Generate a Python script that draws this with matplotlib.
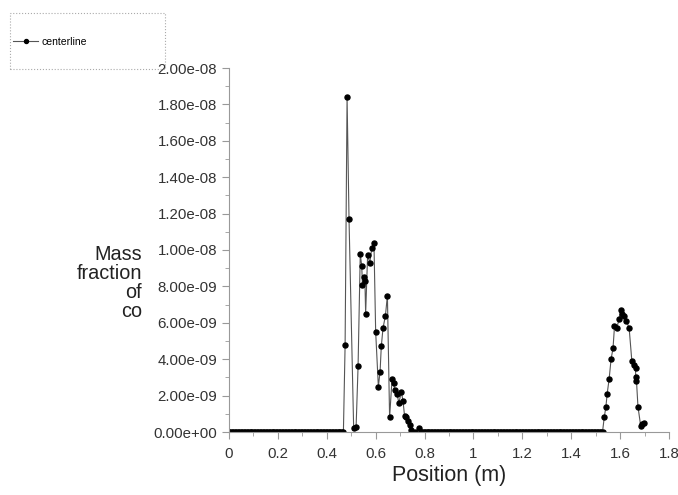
import numpy as np
import matplotlib.pyplot as plt
from matplotlib.patches import Rectangle
from matplotlib.ticker import MultipleLocator

plt.rcParams['font.family'] = ['Liberation Sans', 'DejaVu Sans']

# flat zero stretches (densely sampled)
zero_left_x = np.arange(0.0, 0.472, 0.006)
zero_mid_x = np.arange(0.79, 1.525, 0.006)

# first group of peaks
peak1_x = [0.475, 0.483, 0.491, 0.51, 0.52, 0.528, 0.537, 0.543, 0.546, 0.551,
           0.556, 0.559, 0.567, 0.576, 0.584, 0.593, 0.60, 0.611, 0.618, 0.623,
           0.63, 0.64, 0.648, 0.657, 0.667, 0.673, 0.678, 0.687, 0.695, 0.705,
           0.712, 0.718, 0.725, 0.732, 0.739, 0.746, 0.76, 0.777, 0.785]
peak1_y = [4.8e-9, 1.84e-8, 1.17e-8, 0.2e-9, 0.3e-9, 3.6e-9, 9.8e-9, 9.1e-9, 8.1e-9, 8.5e-9,
           8.3e-9, 6.5e-9, 9.7e-9, 9.3e-9, 1.01e-8, 1.04e-8, 5.5e-9, 2.5e-9, 3.3e-9, 4.7e-9,
           5.7e-9, 6.4e-9, 7.5e-9, 0.8e-9, 2.9e-9, 2.7e-9, 2.3e-9, 2.1e-9, 1.6e-9, 2.2e-9,
           1.7e-9, 0.9e-9, 0.8e-9, 0.6e-9, 0.4e-9, 0.1e-9, 0.0, 0.2e-9, 0.0]

# second peak near the end
peak2_x = [1.528, 1.535, 1.542, 1.547, 1.555, 1.563, 1.571, 1.577, 1.586, 1.596,
           1.603, 1.609, 1.616, 1.626, 1.637, 1.648, 1.657, 1.663, 1.664, 1.667,
           1.673, 1.684, 1.691, 1.697]
peak2_y = [0.0, 0.8e-9, 1.4e-9, 2.1e-9, 2.9e-9, 4.0e-9, 4.6e-9, 5.8e-9, 5.7e-9, 6.2e-9,
           6.7e-9, 6.5e-9, 6.4e-9, 6.1e-9, 5.7e-9, 3.9e-9, 3.7e-9, 3.5e-9, 3.0e-9, 2.8e-9,
           1.4e-9, 0.35e-9, 0.45e-9, 0.5e-9]

x = np.concatenate([zero_left_x, peak1_x, zero_mid_x, peak2_x])
y = np.concatenate([np.zeros(len(zero_left_x)), peak1_y, np.zeros(len(zero_mid_x)), peak2_y])

fig = plt.figure(figsize=(6.78, 4.95), dpi=100)
ax = fig.add_axes([229 / 678, 1 - 432 / 495, 440 / 678, 364 / 495])

line, = ax.plot(x, y, color='#555555', lw=0.8, marker='o', ms=3.6,
                mfc='black', mec='black', label='centerline')

ax.set_xlim(0, 1.8)
ax.set_ylim(0, 2e-8)
ax.xaxis.set_major_locator(MultipleLocator(0.2))
ax.xaxis.set_minor_locator(MultipleLocator(0.1))
ax.yaxis.set_major_locator(MultipleLocator(2e-9))
ax.yaxis.set_minor_locator(MultipleLocator(1e-9))
ax.yaxis.set_major_formatter(plt.FuncFormatter(lambda v, p: f"{v:.2e}"))
ax.xaxis.set_major_formatter(plt.FuncFormatter(lambda v, p: f"{v:g}"))

for s in ['top', 'right']:
    ax.spines[s].set_visible(False)
for s in ['left', 'bottom']:
    ax.spines[s].set_color('#999999')
    ax.spines[s].set_linewidth(0.8)
ax.tick_params(which='both', colors='#999999', labelcolor='#333333', labelsize=10.8)
ax.tick_params(which='major', length=5)
ax.tick_params(which='minor', length=3)
ax.tick_params(axis='x', pad=6)

ax.set_xlabel('Position (m)', fontsize=15.5, color='#222222', labelpad=3)
fig.text(142 / 678, 1 - 283 / 495, 'Mass\nfraction\nof\nco', ha='right', va='center',
         multialignment='right', fontsize=14.3, color='#222222', linespacing=1.0)

# legend box sitting outside the axes, upper left
fig.patches.append(Rectangle((10 / 678, 1 - 69 / 495), 155 / 678, 56 / 495,
                             transform=fig.transFigure, fill=False,
                             edgecolor='#aaaaaa', lw=0.8, ls=':'))
fig.legend(handles=[line], loc='center left', bbox_to_anchor=(4 / 678, 1 - 42 / 495),
           frameon=False, fontsize=7.5, handlelength=2.4, handletextpad=0.3,
           markerscale=0.8)

fig.savefig('out.png', dpi=100)
